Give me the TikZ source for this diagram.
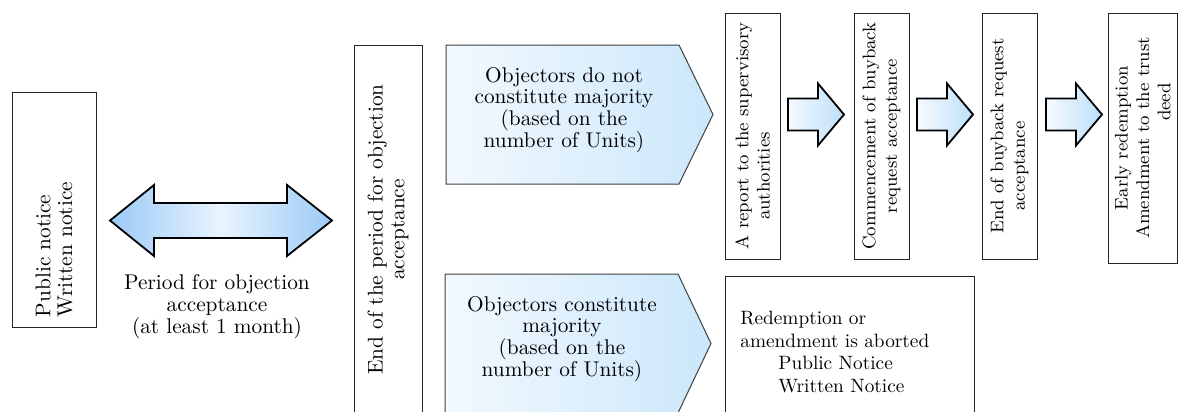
\documentclass[tikz,border=0pt]{standalone}
\usepackage{tikz}
\usetikzlibrary{calc}
\definecolor{dblend}{RGB}{155,202,247}
\definecolor{dblmid}{RGB}{233,244,254}
\definecolor{arrowpale}{RGB}{246,251,255}
\definecolor{arrowblue}{RGB}{188,223,250}
\definecolor{pentapale}{RGB}{243,249,254}
\definecolor{pentablue}{RGB}{203,231,251}
\def\bigtxt{\fontsize{10.65}{10.85}\selectfont}
\def\smalltxt{\fontsize{9.15}{10.7}\selectfont}
\def\abtxt{\fontsize{9.65}{11.3}\selectfont}
\def\fatarrow(#1){\draw[arrowbody] (#1) ++(0,-16) -- ++(30,0) -- ++(0,-15) -- ++(26,31) -- ++(-26,31) -- ++(0,-15) -- ++(-30,0) -- cycle;}

\begin{document}
\begin{tikzpicture}[x=0.5pt,y=-0.5pt,
    vbox/.style={draw=black!85, line width=0.5pt, rotate=90, inner sep=0pt, align=center},
    arrowbody/.style={draw=black, line width=0.9pt, line join=miter, left color=arrowpale, right color=arrowblue},
    penta/.style={draw=black!75, line width=0.5pt, left color=pentapale, right color=pentablue}]
			%%%%% START %%%%%
			\useasboundingbox (0,0) rectangle (1179,412);
			
			% notice and period
			\node[vbox, align=left, text width=107.5pt, minimum width=117.5pt, minimum height=42pt, font=\bigtxt] (pub) at (54,209.5) {Public notice\\Written notice};
			
			\draw[line width=0.9pt, line join=miter, left color=dblend, right color=dblend, middle color=dblmid] (110,220.5) -- (154,185) -- (154,203) -- (287,203) -- (287,185) -- (332,220.5) -- (287,256) -- (287,238) -- (154,238) -- (154,256) -- cycle;
			\node[align=center, font=\bigtxt] (period) at (217,306.5) {Period for objection\\acceptance\\(at least 1 month)};
			
			\node[vbox, minimum width=184.5pt, minimum height=34pt, font=\bigtxt] (endp) at (388,229.5) {End of the period for objection\\acceptance};
			
			% two outcomes
			\draw[penta] (446,45) -- (679,45) -- (713,114.5) -- (679,184) -- (446,184) -- cycle;
			\node[align=center, font=\bigtxt] (nomaj) at (564,110) {Objectors do not\\constitute majority\\(based on the\\number of Units)};
			
			\draw[penta] (445,274) -- (678,274) -- (711,343.5) -- (678,413) -- (445,413) -- cycle;
			\node[align=center, font=\bigtxt] (maj) at (562,339) {Objectors constitute\\majority\\(based on the\\number of Units)};
			
			% buyback steps
			\node[vbox, minimum width=123pt, minimum height=27.5pt, font=\smalltxt] (rep) at (752.5,136) {A report to the supervisory\\authorities\hspace*{40pt}};
			\fatarrow(788,114.5)
			\node[vbox, minimum width=123pt, minimum height=27.5pt, font=\smalltxt] (com) at (881.5,136) {Commencement of buyback\\request acceptance};
			\fatarrow(917,114.5)
			\node[vbox, minimum width=123pt, minimum height=27.5pt, font=\smalltxt] (endb) at (1009.5,136) {End of buyback request\\acceptance\hspace*{30pt}};
			\fatarrow(1046,114.5)
			\node[vbox, minimum width=125pt, minimum height=34.75pt, font=\smalltxt] (early) at (1142.75,138) {Early redemption\\Amendment to the trust\\\hspace*{36pt}deed};
			
			% aborted
			\node[draw=black!85, line width=0.5pt, anchor=north west, minimum width=124.5pt, minimum height=69pt, inner sep=0pt] (abort) at (725,276) {};
			\node[anchor=north west, align=left, inner sep=0pt, font=\abtxt] (abtext) at ($(abort.north west)+(15,35)$) {Redemption or\\amendment is aborted\\\hspace*{19pt}Public Notice\\\hspace*{19pt}Written Notice};
			
			%%%%% END %%%%%
\end{tikzpicture}
\end{document}
